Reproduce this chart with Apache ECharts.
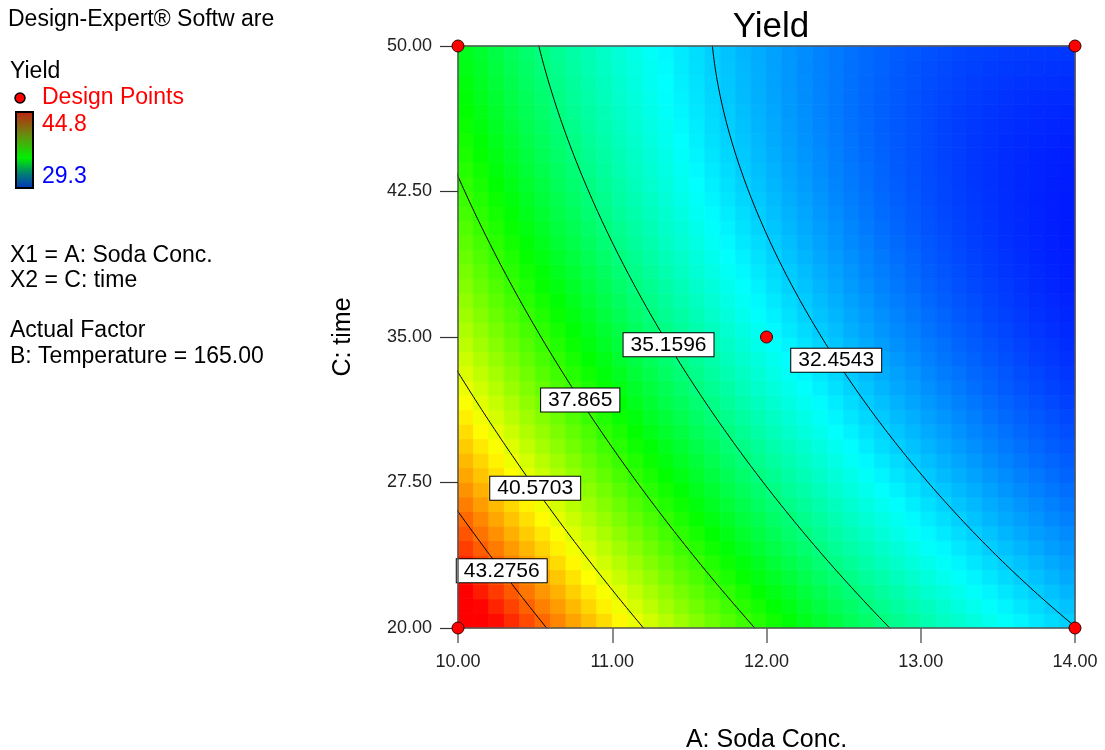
<!DOCTYPE html>
<html>
<head>
<meta charset="utf-8">
<title>Yield</title>
<script src="https://cdn.jsdelivr.net/npm/echarts@6/dist/echarts.min.js"></script>
<style>
  html, body { margin: 0; padding: 0; background: #fff; }
  #chart { width: 1105px; height: 750px; }
</style>
</head>
<body>
<div id="chart"></div>
<script>
// Factor ranges (actual units)
const sodaRange = [10, 14];      // A: Soda Conc.
const timeRange = [20, 50];      // C: time
const sodaTicks = [10, 11, 12, 13, 14];
const timeTicks = [20, 27.5, 35, 42.5, 50];

// Quadratic response model in coded units a=(A-12)/2, c=(C-35)/15,
// B: Temperature held at 165.00
// order: [intercept, A, C, AC, A^2, C^2]
const modelCoefs = [33.3, -5.04, -2.89, 1.74, 1.65, 1.415];

// Response colour range (design point extremes)
const yieldRange = [29.3, 44.8];

// Contour levels and the time value where each label sits
const contourLevels = [32.4543, 35.1596, 37.865, 40.5703, 43.2756];
const contourLabelTime = [33.8, 34.6, 31.75, 27.2, 22.95];

// Design points
const designSoda = [10, 10, 14, 14, 12];
const designTime = [20, 50, 20, 50, 35];

// Surface grid resolution
const gridCols = 40;
const gridRows = 40;

const FONT = '"Liberation Sans", Arial, sans-serif';

function coded(A, C) {
  return [(A - 12) / 2, (C - 35) / 15];
}
function predict(A, C) {
  const [a, c] = coded(A, C);
  const b = modelCoefs;
  return b[0] + b[1] * a + b[2] * c + b[3] * a * c + b[4] * a * a + b[5] * c * c;
}

// blue -> cyan -> green -> yellow -> red
const colorStops = [[0, 0, 255], [0, 255, 255], [0, 255, 0], [255, 255, 0], [255, 0, 0]];
function yieldColor(v) {
  let t = (v - yieldRange[0]) / (yieldRange[1] - yieldRange[0]);
  t = Math.max(0, Math.min(1, t));
  const s = t * (colorStops.length - 1);
  const i = Math.min(colorStops.length - 2, Math.floor(s));
  const f = s - i;
  const c0 = colorStops[i], c1 = colorStops[i + 1];
  const r = Math.round(c0[0] + (c1[0] - c0[0]) * f);
  const g = Math.round(c0[1] + (c1[1] - c0[1]) * f);
  const bl = Math.round(c0[2] + (c1[2] - c0[2]) * f);
  return 'rgb(' + r + ',' + g + ',' + bl + ')';
}

// Surface cells (centre of each cell)
const cellW = (sodaRange[1] - sodaRange[0]) / gridCols;
const cellH = (timeRange[1] - timeRange[0]) / gridRows;
const surfaceData = [];
for (let i = 0; i < gridCols; i++) {
  for (let j = 0; j < gridRows; j++) {
    const A = sodaRange[0] + (i + 0.5) * cellW;
    const C = timeRange[0] + (j + 0.5) * cellH;
    surfaceData.push([A, C, predict(A, C)]);
  }
}

// Soda concentration on a contour level for a given time (decreasing branch)
function sodaOnLevel(level, C) {
  const c = (C - 35) / 15;
  const b = modelCoefs;
  const qa = b[4];
  const qb = b[1] + b[3] * c;
  const qc = b[0] + b[2] * c + b[5] * c * c - level;
  const disc = qb * qb - 4 * qa * qc;
  if (disc < 0) return null;
  const a = (-qb - Math.sqrt(disc)) / (2 * qa);
  return 12 + 2 * a;
}

const contourSeries = contourLevels.map(level => {
  const pts = [];
  const steps = 400;
  for (let k = 0; k <= steps; k++) {
    const C = timeRange[0] - 2 + (timeRange[1] - timeRange[0] + 4) * k / steps;
    const A = sodaOnLevel(level, C);
    if (A !== null && A > sodaRange[0] - 1 && A < sodaRange[1] + 1) pts.push([A, C]);
  }
  return {
    type: 'line',
    data: pts,
    showSymbol: false,
    silent: true,
    clip: true,
    z: 5,
    lineStyle: { color: '#000', width: 1 }
  };
});

const labelData = contourLevels.map((level, i) => {
  const C = contourLabelTime[i];
  return { value: [sodaOnLevel(level, C), C], name: String(level) };
});

const chart = echarts.init(document.getElementById('chart'));

const axisLineStyle = { color: '#555', width: 1.5 };

// left-hand information panel
function infoText(text, x, y, size, color) {
  return {
    type: 'text',
    style: { text: text, x: x, y: y, font: size + 'px ' + FONT, fill: color || '#000', verticalAlign: 'middle' }
  };
}

chart.setOption({
  animation: false,
  backgroundColor: '#fff',
  title: {
    text: 'Yield',
    left: 766,
    textAlign: 'center',
    top: 5,
    textStyle: { fontFamily: FONT, fontSize: 35, fontWeight: 'normal', color: '#000' }
  },
  grid: { left: 458, top: 46, width: 617, height: 582, show: false, containLabel: false, outerBoundsMode: 'none' },
  xAxis: [{
    type: 'value',
    min: sodaRange[0], max: sodaRange[1], interval: 1,
    z: 10,
    name: 'A: Soda Conc.',
    nameLocation: 'middle',
    nameGap: 100,
    nameTextStyle: { fontFamily: FONT, fontSize: 25, color: '#000' },
    axisLine: { show: true, onZero: false, lineStyle: axisLineStyle },
    axisTick: { show: true, length: 15, lineStyle: { color: '#666', width: 1.5 }, customValues: sodaTicks },
    axisLabel: {
      margin: 25, fontFamily: FONT, fontSize: 18, color: '#222',
      customValues: sodaTicks,
      formatter: v => v.toFixed(2)
    },
    splitLine: { show: false }
  }, {
    type: 'value', position: 'top',
    min: sodaRange[0], max: sodaRange[1],
    z: 10,
    axisLine: { show: true, onZero: false, lineStyle: axisLineStyle },
    axisTick: { show: false }, axisLabel: { show: false }, splitLine: { show: false }
  }],
  yAxis: [{
    type: 'value',
    min: timeRange[0], max: timeRange[1],
    z: 10,
    name: 'C: time',
    nameLocation: 'middle',
    nameGap: 102,
    nameRotate: 90,
    nameTextStyle: { fontFamily: FONT, fontSize: 25, color: '#000' },
    axisLine: { show: true, onZero: false, lineStyle: axisLineStyle },
    axisTick: { show: true, length: 18, lineStyle: { color: '#333', width: 1.2 }, customValues: timeTicks },
    axisLabel: {
      margin: 26, fontFamily: FONT, fontSize: 18, color: '#222',
      customValues: timeTicks,
      formatter: v => v.toFixed(2)
    },
    splitLine: { show: false }
  }, {
    type: 'value', position: 'right',
    min: timeRange[0], max: timeRange[1],
    z: 10,
    axisLine: { show: true, onZero: false, lineStyle: axisLineStyle },
    axisTick: { show: false }, axisLabel: { show: false }, splitLine: { show: false }
  }],
  series: [
    {
      type: 'custom',
      data: surfaceData,
      silent: true,
      z: 1,
      renderItem: function (params, api) {
        const A = api.value(0), C = api.value(1), v = api.value(2);
        const p0 = api.coord([A - cellW / 2, C - cellH / 2]);
        const p1 = api.coord([A + cellW / 2, C + cellH / 2]);
        const col = yieldColor(v);
        return {
          type: 'rect',
          shape: {
            x: Math.min(p0[0], p1[0]), y: Math.min(p0[1], p1[1]),
            width: Math.abs(p1[0] - p0[0]), height: Math.abs(p1[1] - p0[1])
          },
          style: { fill: col, stroke: col, lineWidth: 0.8 }
        };
      }
    },
    ...contourSeries,
    {
      type: 'scatter',
      data: labelData,
      symbolSize: 0,
      itemStyle: { color: '#fff', opacity: 1 },
      silent: true,
      z: 8,
      label: {
        show: true,
        position: 'inside',
        formatter: p => p.name,
        fontFamily: FONT,
        fontSize: 21,
        color: '#000',
        opacity: 1,
        backgroundColor: '#ffffff',
        borderColor: '#000',
        borderWidth: 1,
        padding: [2, 7, 0, 7]
      }
    },
    {
      type: 'scatter',
      data: designSoda.map((a, i) => [a, designTime[i]]),
      symbol: 'circle',
      symbolSize: 12,
      clip: false,
      silent: true,
      z: 20,
      itemStyle: { color: '#ff0000', borderColor: '#3a0000', borderWidth: 1, opacity: 1 }
    }
  ],
  graphic: [
    infoText('Design-Expert® Softw are', 8, 20, 23),
    infoText('Yield', 10, 72, 23),
    { type: 'circle', shape: { cx: 20, cy: 98, r: 5 }, style: { fill: '#ff0000', stroke: '#000', lineWidth: 1.5 } },
    infoText('Design Points', 42, 98, 23, '#ff0000'),
    {
      type: 'rect', shape: { x: 16, y: 112, width: 17, height: 76 },
      style: {
        stroke: '#000', lineWidth: 2,
        fill: new echarts.graphic.LinearGradient(0, 0, 0, 1, [
          { offset: 0, color: '#c02010' },
          { offset: 0.3, color: '#6a8a10' },
          { offset: 0.6, color: '#00f000' },
          { offset: 0.8, color: '#008070' },
          { offset: 1, color: '#0030c0' }
        ])
      }
    },
    infoText('44.8', 42, 125, 23, '#ff0000'),
    infoText('29.3', 42, 177, 23, '#0000ff'),
    infoText('X1 = A: Soda Conc.', 10, 256, 23),
    infoText('X2 = C: time', 10, 281, 23),
    infoText('Actual Factor', 10, 331, 23),
    infoText('B: Temperature = 165.00', 10, 357, 23)
  ]
});
</script>
</body>
</html>
